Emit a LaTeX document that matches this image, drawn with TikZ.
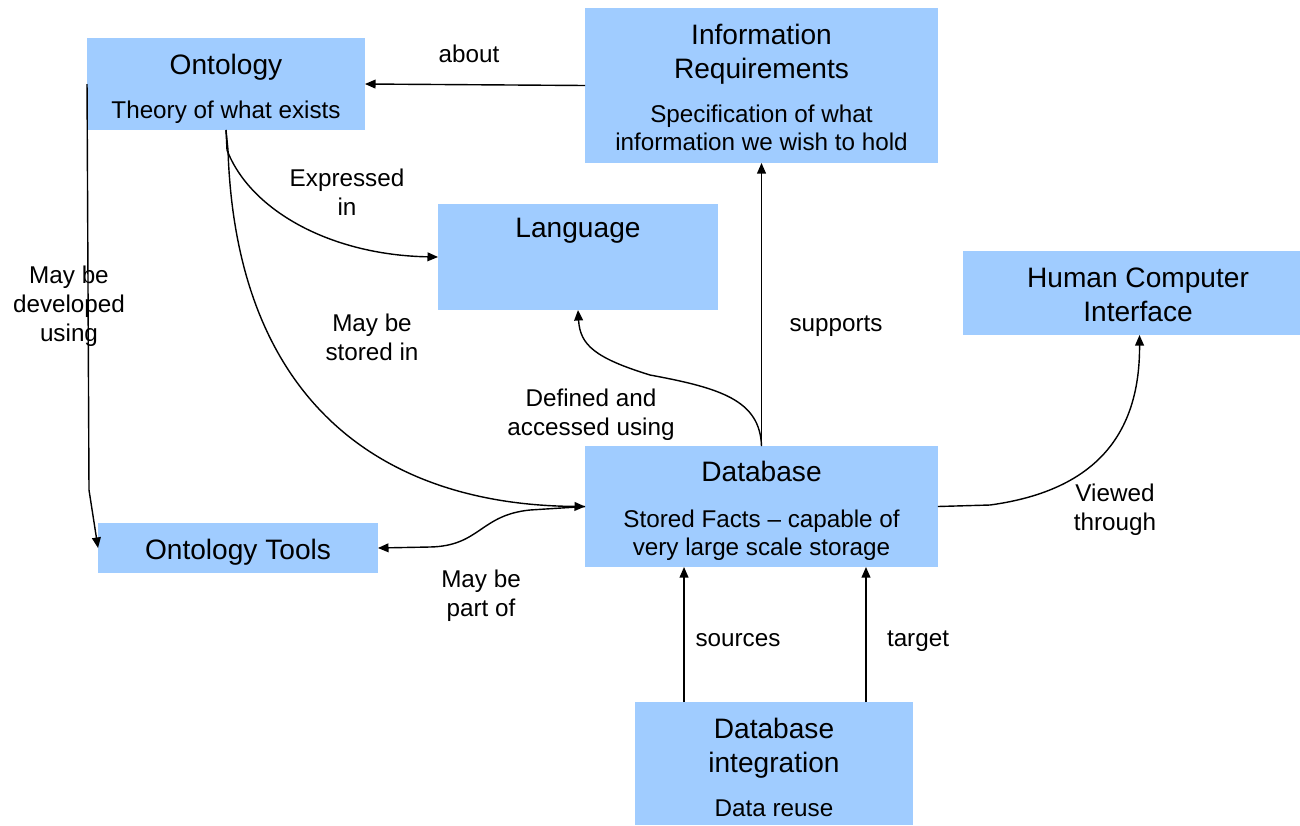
\documentclass[tikz,border=0pt]{standalone}
\usepackage{fontspec}
\setmainfont{Liberation Sans}
\usetikzlibrary{arrows.meta}
\definecolor{boxblue}{HTML}{A0CCFF}
\begin{document}
\begin{tikzpicture}[x=0.02cm,y=-0.02cm,
  box/.style={fill=boxblue, draw=none, inner sep=0pt, outer sep=0pt},
  ttl/.style={inner sep=0pt, align=center, font=\fontsize{16}{19.3}\selectfont, text height=11.5pt, text depth=0pt},
  sub/.style={inner sep=0pt, align=center, font=\fontsize{13.8}{16}\selectfont, text height=9.9pt, text depth=0pt},
  lbl/.style={inner sep=0pt, align=center, font=\fontsize{13.8}{16.6}\selectfont, text height=9.9pt, text depth=0pt},
  conn/.style={draw, line width=0.8pt, -{Triangle[length=6pt,width=5pt]}}]
\useasboundingbox (0,0) rectangle (1300,825);
% boxes
\node[box, minimum width=5.56cm, minimum height=1.84cm] (ont) at (226,84) {};
\node[box, minimum width=7.06cm, minimum height=3.10cm] (ir) at (761.5,85.5) {};
\node[box, minimum width=5.60cm, minimum height=2.12cm] (lang) at (578,257) {};
\node[box, minimum width=6.74cm, minimum height=1.68cm] (hci) at (1131.5,293) {};
\node[box, minimum width=7.06cm, minimum height=2.42cm] (db) at (761.5,506.5) {};
\node[box, minimum width=5.60cm, minimum height=1.00cm] (ot) at (238,548) {};
\node[box, minimum width=5.56cm, minimum height=2.46cm] (dbi) at (774,763.5) {};
% box texts (y = centre of the last line)
\node[ttl] (ontT) at (226,64) {Ontology};
\node[sub] (ontS) at (226,110) {Theory of what exists};
\node[ttl] (irT) at (761.5,68) {Information\\Requirements};
\node[sub] (irS) at (761.5,142) {Specification of what\\information we wish to hold};
\node[ttl] (langT) at (578,227) {Language};
\node[ttl] (hciT) at (1138,311) {Human Computer\\Interface};
\node[ttl] (dbT) at (761.5,471) {Database};
\node[sub] (dbS) at (761.5,547) {Stored Facts -- capable of\\very large scale storage};
\node[ttl] (otT) at (238,549) {Ontology Tools};
\node[ttl] (dbiT) at (774,762) {Database\\integration};
\node[sub] (dbiS) at (774,808) {Data reuse};
% connectors
\coordinate (c1) at (89,490);
\draw[conn] (ir.west) -- (ont.east);
\draw[conn] (ont.west) -- (c1) -- (ot.west);
\draw[conn] (ont.south) -- ++(1,20) .. controls (250,210) and (330,255) .. (lang.west);
\draw[conn] (ont.south) -- ++(2,20) .. controls (236,400) and (380,505) .. (db.west);
\draw[conn] (db.west) -- (530,510) .. controls (480,515) and (480,546) .. (430,547) -- (ot.east);
\draw[conn] (db.north) .. controls (760,400) and (720,388) .. (650,375) .. controls (595,358) and (580,345) .. (lang.south);
\draw[conn] (db.north) -- (ir.south);
\draw[conn] (db.east) -- (990,505) .. controls (1100,490) and (1140,430) .. ([xshift=0.16cm]hci.south);
\draw[conn] ([xshift=0.98cm]dbi.north west) -- ([xshift=0.98cm]dbi.north west |- db.south);
\draw[conn] ([xshift=4.62cm]dbi.north west) -- ([xshift=4.62cm]dbi.north west |- db.south);
% labels (y = centre of the last line)
\node[lbl] (lAbout) at (469,54) {about};
\node[lbl] (lExp) at (347,207) {Expressed\\in};
\node[lbl] (lDev) at (69,333) {May be\\developed\\using};
\node[lbl] (lStore) at (372,352) {May be\\stored in};
\node[lbl] (lDef) at (591,427) {Defined and\\accessed using};
\node[lbl] (lSup) at (836,323) {supports};
\node[lbl] (lView) at (1115,522) {Viewed\\through};
\node[lbl] (lPart) at (481,608) {May be\\part of};
\node[lbl] (lSrc) at (738,638) {sources};
\node[lbl] (lTgt) at (918,638) {target};
\end{tikzpicture}
\end{document}
